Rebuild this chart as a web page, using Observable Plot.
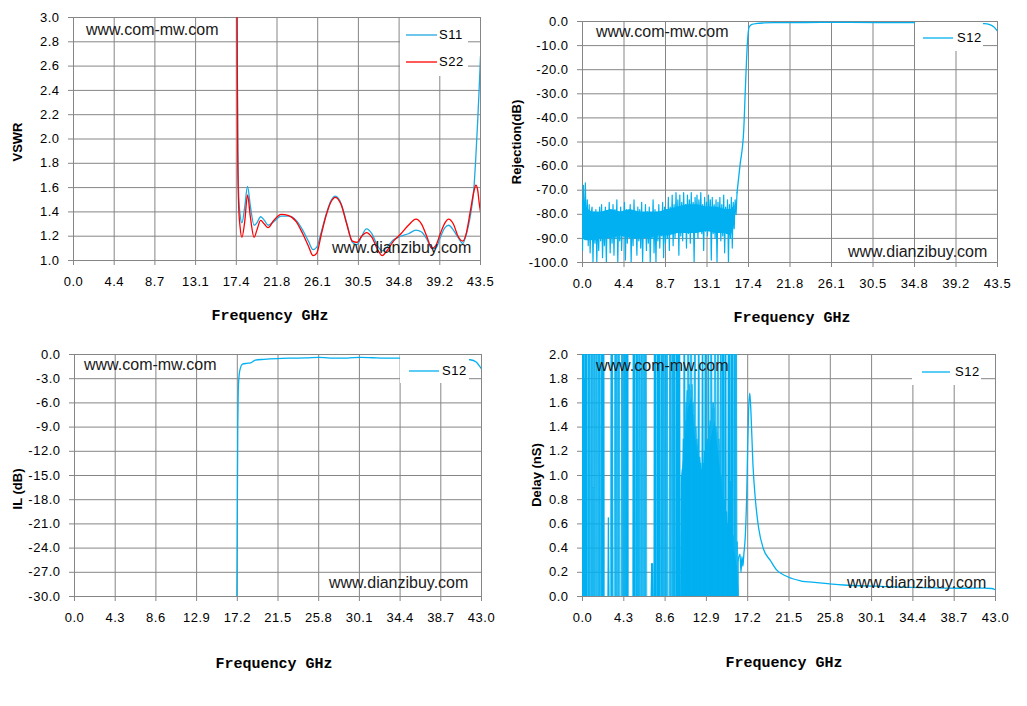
<!DOCTYPE html>
<html><head><meta charset="utf-8">
<script src="https://cdn.jsdelivr.net/npm/d3@7"></script>
<script src="https://cdn.jsdelivr.net/npm/@observablehq/plot@0.6"></script>
<style>
body{margin:0;background:#fff;}
#wrap{position:relative;width:1027px;height:706px;overflow:hidden;background:#fff;}
.panel{position:absolute;}
.panel svg{overflow:visible;}
.panel g[aria-label="x-axis tick"],.panel g[aria-label="y-axis tick"]{stroke:#868686;}
.panel g[aria-label="x-axis"] line,.panel g[aria-label="y-axis"] line{stroke:#868686;}
.wm{position:absolute;font-family:"Liberation Sans",Arial,sans-serif;font-size:16px;line-height:18px;color:#1a1a1a;white-space:nowrap;}
.xt{position:absolute;font-family:"Liberation Mono",monospace;font-weight:bold;font-size:15px;line-height:18px;white-space:nowrap;transform:translateX(-50%);color:#000;}
.yt{position:absolute;font-family:"Liberation Sans",Arial,sans-serif;font-weight:bold;font-size:13px;line-height:16px;white-space:nowrap;transform:translate(-50%,-50%) rotate(-90deg);color:#000;}
.lg{position:absolute;background:#fff;}
.lgtxt{position:absolute;font-family:"Liberation Sans",Arial,sans-serif;font-size:13px;letter-spacing:0.5px;line-height:16px;color:#000;white-space:nowrap;}
.lgsw{position:absolute;overflow:visible;}
</style>
</head><body><div id="wrap"></div>
<script>
// ---------- axis ticks ----------
const ticksX435 = [0, 4.35, 8.7, 13.05, 17.4, 21.75, 26.1, 30.45, 34.8, 39.15, 43.5];
const labelsX435 = ["0.0","4.4","8.7","13.1","17.4","21.8","26.1","30.5","34.8","39.2","43.5"];
const ticksX43 = [0, 4.3, 8.6, 12.9, 17.2, 21.5, 25.8, 30.1, 34.4, 38.7, 43.0];
const labelsX43 = ["0.0","4.3","8.6","12.9","17.2","21.5","25.8","30.1","34.4","38.7","43.0"];
const ticksVswr = [1.0,1.2,1.4,1.6,1.8,2.0,2.2,2.4,2.6,2.8,3.0];
const ticksRej = [-100,-90,-80,-70,-60,-50,-40,-30,-20,-10,0];
const ticksIL = [-30,-27,-24,-21,-18,-15,-12,-9,-6,-3,0];
const ticksDelay = [0,0.2,0.4,0.6,0.8,1.0,1.2,1.4,1.6,1.8,2.0];

// ---------- VSWR (S11 / S22) ----------
const vswrF = [17.0,17.45,17.55,17.65,17.8,18.0,18.3,18.6,18.9,19.3,19.6,20.0,20.4,20.8,21.4,22.2,23.0,23.8,24.5,25.1,25.6,26.0,26.5,27.0,27.5,28.0,28.6,29.2,29.8,30.3,30.8,31.3,31.9,32.5,33.0,33.5,34.2,35.0,35.8,36.6,37.2,37.8,38.3,38.7,39.2,39.7,40.1,40.6,41.1,41.6,42.0,42.4,42.8,43.0,43.2,43.35,43.5];
const s11 = [6,3.5,2.0,1.55,1.38,1.31,1.44,1.61,1.45,1.29,1.31,1.36,1.33,1.29,1.32,1.365,1.365,1.33,1.25,1.16,1.09,1.11,1.24,1.38,1.49,1.53,1.47,1.31,1.15,1.13,1.2,1.26,1.22,1.12,1.08,1.11,1.17,1.2,1.22,1.25,1.235,1.17,1.1,1.1,1.19,1.27,1.29,1.25,1.19,1.14,1.22,1.36,1.6,1.85,2.15,2.4,2.68];
const s22 = [6,3.5,1.9,1.45,1.28,1.19,1.32,1.54,1.36,1.19,1.25,1.33,1.3,1.27,1.33,1.38,1.37,1.32,1.22,1.12,1.04,1.06,1.22,1.37,1.48,1.52,1.46,1.3,1.16,1.15,1.2,1.23,1.19,1.09,1.04,1.08,1.16,1.22,1.29,1.34,1.3,1.19,1.1,1.12,1.22,1.31,1.34,1.3,1.2,1.16,1.23,1.4,1.57,1.62,1.58,1.48,1.4];

// ---------- Rejection (S12) ----------
const sweepStep = 0.1; // GHz between noise-floor samples, starting at 0
const rejNoise = [
-95,-68,-88,-67,-90,-74,-93,-76,-96,-80,
-77,-100,-79,-92,-78,-100,-80,-95,-77,-91,
-76,-98,-81,-93,-77,-100,-79,-89,-75,-96,
-80,-92,-76,-97,-78,-90,-74,-100,-79,-91,
-77,-95,-81,-89,-75,-99,-78,-92,-80,-88,
-76,-100,-79,-93,-74,-90,-82,-97,-77,-91,
-78,-94,-75,-100,-80,-89,-76,-95,-79,-92,
-77,-100,-81,-90,-74,-96,-78,-100,-79,-91,
-76,-94,-80,-89,-75,-98,-77,-92,-78,-90,
-73,-95,-77,-88,-72,-93,-76,-90,-71,-87,
-74,-97,-72,-89,-75,-91,-71,-86,-76,-94,
-72,-88,-74,-92,-71,-87,-75,-100,-73,-86,
-72,-90,-74,-85,-71,-88,-76,-95,-73,-87,
-75,-89,-72,-86,-74,-99,-73,-88,-76,-90,
-74,-100,-75,-87,-73,-91,-76,-89,-72,-96,
-77,-88,-74,-100,-76,-90,-73,-94,-75,-86,
-74,-80,-71];
const bandF = [0,0.3,0.6,1.0,1.5,2.0,3.0,4.0,5.0,6.0,7.0,8.0,9.0,10.0,11.0,12.0,13.0,14.0,15.0,15.6,16.0];
const bandHi = [-74,-76,-78,-79,-79,-79,-78,-79,-78,-79,-79,-79,-78,-77,-76,-76,-77,-77,-78,-78,-76];
const bandLo = [-90,-91,-91,-91,-91,-90,-90,-89,-90,-90,-90,-89,-89,-88,-88,-88,-87,-88,-88,-89,-84];
const rejPassF = [16.2,16.5,16.9,17.1,17.3,17.45,17.75,18.3,19.0,20.0,22.0,25.0,28.0,31.0,34.0,37.0,40.0,41.3,42.0,42.6,43.1,43.5];
const rejPassDb = [-71,-60,-45,-25,-8,-2.5,-1.2,-0.8,-0.6,-0.5,-0.45,-0.4,-0.4,-0.45,-0.45,-0.5,-0.55,-0.65,-0.85,-1.2,-2.2,-4.0];

// ---------- Insertion loss (S12) ----------
const ilF = [17.0,17.15,17.2,17.25,17.3,17.4,17.55,17.75,18.2,18.6,19.1,20.0,21.4,23.0,24.5,25.8,27.0,28.8,30.2,31.5,32.7,34.4,36.0,38.0,40.0,41.3,41.8,42.4,43.0];
const ilDb = [-40,-30,-20,-9,-4.5,-2.5,-1.6,-1.2,-1.1,-1.05,-0.7,-0.6,-0.5,-0.45,-0.42,-0.35,-0.45,-0.45,-0.35,-0.4,-0.45,-0.45,-0.5,-0.5,-0.55,-0.6,-0.65,-0.9,-1.8];

// ---------- Group delay (S12): peak delay of the noisy trace per 0.1 GHz sample ----------
const delayNoise = [
3,3,1.8,3,3,0,3,3,0,3,
3,0.9,3,3,0,3,0,3,3,0,
3,3,3,0,0,0,0,0.65,0,0,
3,3,0,0,3,3,0,3,3,0,
0,3,3,0,3,3,3,3,0,0,
0,0,0,3,3,0,3,3,1.2,3,
0,3,3,0,3,3,3,0,0,0,
0,0,0.27,0.27,0,3,3,0,3,3,
3,0,3,3,3,0,3,3,3,0,
0,3,3,0,3,3,3,0,3,3,
3,3,0,1.0,1.05,1.3,3,1.45,1.6,1.7,
3,1.75,1.7,3,1.75,1.6,1.5,3,1.4,1.3,
1.25,3,1.15,1.1,1.05,3,1.1,1.2,3,1.25,
1.3,3,1.4,1.45,3,1.55,1.6,1.55,3,1.4,
1.35,3,1.3,1.2,3,1.0,3,3,0.8,3,
0.7,0.6,3,3,0.95,3,3,0.5,3,3,
3,0.45,0.3];
const denseF = [10.25,10.3,10.6,11.0,11.4,11.7,12.1,12.4,12.9,13.5,13.8,14.15,14.5,14.85,15.4,15.9,16.1,16.3];
const denseTop = [0,0.95,1.2,1.55,1.65,1.35,1.15,1.0,1.1,1.35,1.45,1.2,0.95,0.65,0.5,0.35,0.25,0.05];
const delayF = [16.2,16.4,16.5,16.6,16.7,16.8,16.95,17.1,17.2,17.3,17.42,17.55,17.74,17.98,18.33,18.85,19.54,20.2,21.3,22.7,24.4,27.2,30.6,34.1,37.6,40.0,41.8,42.6,43.0];
const delayNs = [0.3,0.35,0.2,0.33,0.25,0.35,0.5,0.85,1.25,1.55,1.68,1.5,1.1,0.82,0.57,0.39,0.3,0.22,0.165,0.13,0.115,0.095,0.085,0.075,0.07,0.068,0.07,0.066,0.055];

// ---------- series names / colours ----------
const seriesVswr = ["S11","S22"];
const seriesS12 = ["S12"];
const BLUE = "#1FA9E1", BLUE2 = "#00B0F0", RED = "#FF0000", GRID = "#868686";

const pts = (xs, ys) => xs.map((f, i) => ({f, v: ys[i]}));
const sweep = ys => ys.map((v, i) => ({f: i * sweepStep, v}));

const wrap = document.getElementById("wrap");
const SVGNS = "http://www.w3.org/2000/svg";

function addPanel(c) {
  const svg = Plot.plot({
    width: c.width, height: c.height,
    marginTop: c.m[0], marginRight: c.m[1], marginBottom: c.m[2], marginLeft: c.m[3],
    style: {fontFamily: '"Liberation Sans", Arial, sans-serif', fontSize: "13px", letterSpacing: "0.5px", color: "#000", background: "transparent"},
    x: {domain: c.xDomain, ticks: c.xTicks, tickFormat: d => c.xLabels[c.xTicks.indexOf(d)], tickSize: 5, tickPadding: 11, label: null},
    y: {domain: c.yDomain, ticks: c.yTicks, tickFormat: d => d.toFixed(1), tickSize: 5, tickPadding: 9, label: null},
    marks: [
      Plot.ruleX(c.xTicks, {stroke: GRID, strokeWidth: 1}),
      Plot.ruleY(c.yTicks, {stroke: GRID, strokeWidth: 1}),
      ...c.marks
    ]
  });
  const d = document.createElement("div");
  d.className = "panel";
  d.style.left = c.left + "px"; d.style.top = c.top + "px";
  d.appendChild(svg);
  wrap.appendChild(d);
}

function addDiv(cls, text, css) {
  const d = document.createElement("div");
  d.className = cls; d.textContent = text;
  Object.assign(d.style, css);
  wrap.appendChild(d);
  return d;
}

function addLegend(box, entries) {
  const b = document.createElement("div");
  b.className = "lg";
  Object.assign(b.style, {left: box[0] + "px", top: box[1] + "px", width: box[2] + "px", height: box[3] + "px"});
  wrap.appendChild(b);
  entries.forEach(e => {
    const s = document.createElementNS(SVGNS, "svg");
    s.setAttribute("class", "lgsw");
    s.setAttribute("width", e.x1 - e.x0); s.setAttribute("height", 4);
    s.style.left = e.x0 + "px"; s.style.top = (e.y - 2) + "px";
    const l = document.createElementNS(SVGNS, "line");
    l.setAttribute("x1", 0); l.setAttribute("x2", e.x1 - e.x0);
    l.setAttribute("y1", 2); l.setAttribute("y2", 2);
    l.setAttribute("stroke", e.color); l.setAttribute("stroke-width", 1.3);
    s.appendChild(l);
    wrap.appendChild(s);
    addDiv("lgtxt", e.name, {left: e.tx + "px", top: (e.y - 8) + "px"});
  });
}

// Panel 1: VSWR
addPanel({
  left: 0, top: 0, width: 510, height: 340, m: [17, 30, 80, 73],
  xDomain: [0, 43.5], xTicks: ticksX435, xLabels: labelsX435,
  yDomain: [1, 3], yTicks: ticksVswr,
  marks: [
    Plot.line(pts(vswrF, s11), {x: "f", y: "v", stroke: BLUE, strokeWidth: 1.3, curve: "monotone-x", clip: true}),
    Plot.line(pts(vswrF, s22), {x: "f", y: "v", stroke: RED, strokeWidth: 1.3, curve: "monotone-x", clip: true})
  ]
});

// Panel 2: Rejection
addPanel({
  left: 510, top: 0, width: 517, height: 340, m: [21, 30, 78, 72],
  xDomain: [0, 43.5], xTicks: ticksX435, xLabels: labelsX435,
  yDomain: [-100, 0], yTicks: ticksRej,
  marks: [
    Plot.areaY(bandF.map((f, i) => ({f, lo: bandLo[i], hi: bandHi[i]})), {x: "f", y1: "lo", y2: "hi", fill: BLUE2, clip: true}),
    Plot.line(sweep(rejNoise), {x: "f", y: "v", stroke: BLUE2, strokeWidth: 1.2, clip: true}),
    Plot.line(pts(rejPassF, rejPassDb), {x: "f", y: "v", stroke: BLUE2, strokeWidth: 1.3, curve: "monotone-x", clip: true})
  ]
});

// Panel 3: IL
addPanel({
  left: 0, top: 340, width: 510, height: 366, m: [14, 29, 110, 74],
  xDomain: [0, 43], xTicks: ticksX43, xLabels: labelsX43,
  yDomain: [-30, 0], yTicks: ticksIL,
  marks: [
    Plot.line(pts(ilF, ilDb), {x: "f", y: "v", stroke: BLUE2, strokeWidth: 1.3, curve: "monotone-x", clip: true})
  ]
});

// Panel 4: Delay
addPanel({
  left: 510, top: 340, width: 517, height: 366, m: [14, 32, 110, 72],
  xDomain: [0, 43], xTicks: ticksX43, xLabels: labelsX43,
  yDomain: [0, 2], yTicks: ticksDelay,
  marks: [
    Plot.areaY(pts(denseF, denseTop), {x: "f", y: "v", fill: BLUE2, clip: true}),
    Plot.ruleX(sweep(delayNoise), {x: "f", y1: 0, y2: "v", stroke: BLUE2, strokeWidth: 1.3, clip: true}),
    Plot.line(sweep(delayNoise), {x: "f", y: "v", stroke: BLUE2, strokeWidth: 0.8, strokeOpacity: 0.7, clip: true}),
    Plot.line(pts(delayF, delayNs), {x: "f", y: "v", stroke: BLUE2, strokeWidth: 1.3, curve: "monotone-x", clip: true})
  ]
});

// Legends
addLegend([400, 18, 68, 58], [
  {name: seriesVswr[0], color: BLUE, x0: 406, x1: 437, tx: 439, y: 35},
  {name: seriesVswr[1], color: RED, x0: 406, x1: 437, tx: 439, y: 62}
]);
addLegend([915, 22, 68, 29], [{name: seriesS12[0], color: BLUE2, x0: 923, x1: 953, tx: 957, y: 38}]);
addLegend([400, 355, 69, 28], [{name: seriesS12[0], color: BLUE2, x0: 409, x1: 439, tx: 442, y: 371}]);
addLegend([912, 355, 69, 30], [{name: seriesS12[0], color: BLUE2, x0: 922, x1: 950, tx: 955, y: 372}]);

// Watermarks
const wm1 = "www.com-mw.com", wm2 = "www.dianzibuy.com";
[[86, 30], [596, 32], [84, 365], [596, 366]].forEach(([x, y]) => addDiv("wm", wm1, {left: x + "px", top: (y - 9) + "px"}));
[[332, 248], [848, 252], [329, 583], [847, 583]].forEach(([x, y]) => addDiv("wm", wm2, {left: x + "px", top: (y - 9) + "px"}));

// Axis titles
const xTitle = "Frequency GHz";
[[270, 317], [792, 319], [274, 665], [784, 664]].forEach(([x, y]) => addDiv("xt", xTitle, {left: x + "px", top: (y - 9) + "px"}));
[["VSWR", 17.5, 142], ["Rejection(dB)", 517, 142], ["IL (dB)", 17.5, 489], ["Delay (nS)", 536.5, 475]]
  .forEach(([t, x, y]) => addDiv("yt", t, {left: x + "px", top: y + "px"}));
</script>
</body></html>
